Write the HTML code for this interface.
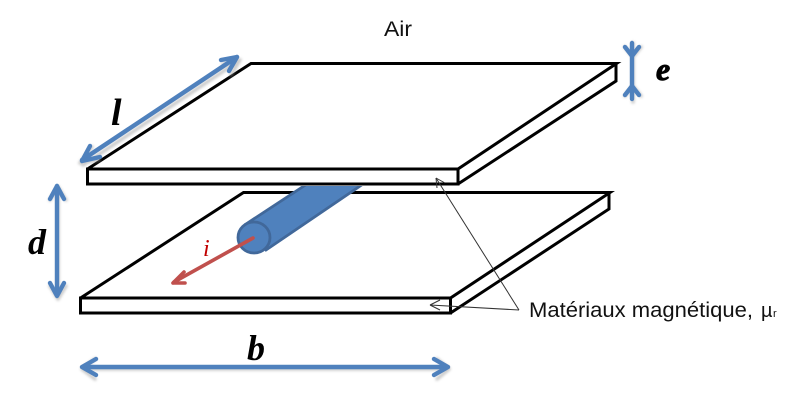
<!DOCTYPE html>
<html><head><meta charset="utf-8"><style>
html,body{margin:0;padding:0;background:#fff;width:806px;height:402px;overflow:hidden}
svg{display:block}
text{font-family:"Liberation Sans",sans-serif}
.m{font-family:"Liberation Serif",serif;font-style:italic;font-weight:bold;fill:#000}
</style></head><body>
<svg width="806" height="402" viewBox="0 0 806 402" xmlns="http://www.w3.org/2000/svg">
<defs>
<filter id="s" x="-20%" y="-20%" width="140%" height="140%"><feGaussianBlur stdDeviation="1.2"/></filter>
<clipPath id="c"><rect x="200" y="186" width="200" height="80"/></clipPath>
</defs>
<g fill="none" stroke="#000" stroke-width="3" stroke-linejoin="miter">
<path d="M80.500 298L243.500 192.500H610L450.500 298"/>
<path d="M80.500 298H450.500V313H80.500Z"/>
<path d="M609 192.500V209L450.500 313"/>
<path d="M87.500 169L251 63.500H616.500L458 169"/>
<path d="M87.500 169H458V184H87.500Z"/>
<path d="M616 64V81L458 184"/>
</g>
<g clip-path="url(#c)">
<path d="M246 224L310 182H366L266 250Z" fill="#4f81bd" stroke="#41689a" stroke-width="2.800"/>
</g>
<ellipse cx="254" cy="237.500" rx="16" ry="15.500" fill="#4f81bd" stroke="#41689a" stroke-width="2.800"/>
<g fill="none" stroke="#999" stroke-width="3.500" opacity=".5" filter="url(#s)" stroke-linecap="round" stroke-linejoin="round">
<path d="M83 165L240 60M80 163L99 160M80 163L92 147M240 60L223 64M240 60L231 75"/>
<path d="M633 43V102M625 47L633 57L641 47M625 96L633 86L641 96"/>
<path d="M58 187V299M50 200L58 187L66 200M50 286L58 299L66 286"/>
<path d="M83 369H449M95 359L82 369L95 379M437 359L449 369L437 379"/>
</g>
<g fill="none" stroke="#4f81bd" stroke-width="4.400" stroke-linecap="round" stroke-linejoin="round">
<path d="M82 160L237 57"/>
<path d="M82 161L100 157M82 161L90 146"/>
<path d="M237 57L221 60M237 57L229 71"/>
<path d="M632 43V99"/>
<path d="M625 47L632 56L639 47M625 95L632 86L639 95"/>
<path d="M57 186V295"/>
<path d="M50 199L57 186L64 199M50 283L57 296L64 283"/>
<path d="M83 367H447"/>
<path d="M96 359L82 367L96 375M434 359L448 367L434 375"/>
</g>
<g fill="none" stroke="#c0504d" stroke-width="3.600" stroke-linecap="round" stroke-linejoin="round">
<path d="M253 238L174 282"/>
<path d="M173 283L184 272M173 283L185 283"/>
</g>
<g fill="none" stroke="#333" stroke-width="1">
<path d="M519 310L436 178"/>
<path d="M436 178L437 188M436 178L445 183"/>
<path d="M519 310L430 305"/>
<path d="M430 305L440 300M430 305L440 310"/>
</g>
<text x="384" y="36" font-size="21" fill="#111" textLength="28" lengthAdjust="spacingAndGlyphs">Air</text>
<text x="529" y="317" font-size="21.500" fill="#111" textLength="224" lengthAdjust="spacingAndGlyphs">Matériaux magnétique,</text>
<text x="761" y="317" font-size="20" fill="#111">µ</text>
<text x="773" y="317" font-size="11" fill="#111">r</text>
<text class="m" x="111" y="125" font-size="38">l</text>
<text class="m" x="656" y="80" font-size="32" stroke="#000" stroke-width="1">e</text>
<text class="m" x="28" y="254" font-size="36">d</text>
<text class="m" x="247" y="360" font-size="36">b</text>
<text x="203" y="256" font-size="24" fill="#c00000" style="font-family:'Liberation Serif',serif;font-style:italic">i</text>
</svg>
</body></html>
